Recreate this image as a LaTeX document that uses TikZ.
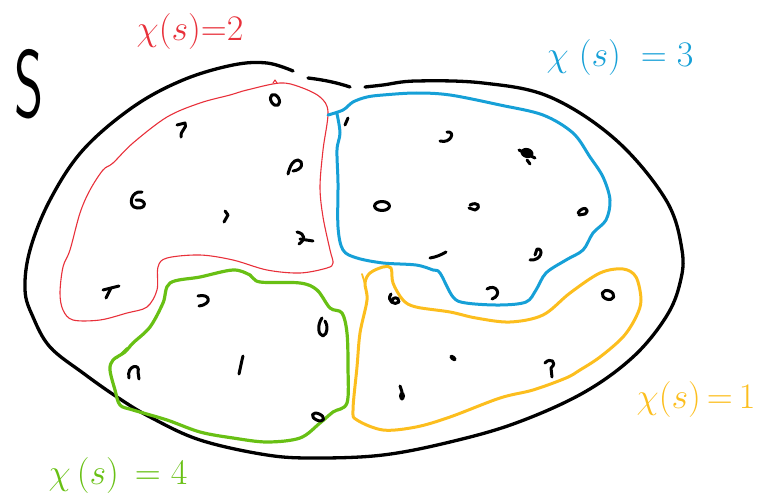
\RequirePackage{fix-cm}
\documentclass[tikz,border=0pt]{standalone}
\usepackage{xcolor}
\definecolor{skred}{RGB}{232,48,58}
\definecolor{skblue}{RGB}{22,160,215}
\definecolor{skgreen}{RGB}{104,192,20}
\definecolor{skyellow}{RGB}{252,190,30}
\tikzset{
  outline/.style={black,line width=3.3pt},
  redline/.style={skred,line width=1.1pt},
  blueline/.style={skblue,line width=3pt},
  greenline/.style={skgreen,line width=3.2pt},
  yellowline/.style={skyellow,line width=3pt},
  ink/.style={black,line width=3pt},
  lbl/.style={font=\fontsize{36}{36}\selectfont},
}
\begin{document}
\begin{tikzpicture}[x=1pt,y=-1pt,line cap=round,line join=round]
\useasboundingbox (0,0) rectangle (766,495);
% set label S
\node[font=\fontsize{96}{96}\selectfont\sffamily,xscale=0.58] (setS) at (29,84) {S};
% outer boundary of S
\draw[outline] plot[smooth,tension=0.6] coordinates {(293,71)(267,63)(233,65)(183,80)(133,107)(83,150)(50,200)(30,250)(25,290)(33,317)(50,347)(83,373)(117,397)(150,417)(200,440)(267,455)(317,458)(383,455)(450,442)(516,423)(583,393)(633,357)(666,317)(680,283)(682,250)(666,200)(616,140)(550,97)(483,83)(416,81)(383,85)(365,87)};
\draw[outline] (308,78) .. controls (325,80) and (338,83) .. (350,87);
% red class
\draw[redline] plot[smooth cycle,tension=0.55] coordinates {(280,83)(300,87)(320,97)(328,112)(323,150)(320,187)(323,217)(330,250)(333,263)(327,268)(300,273)(267,270)(233,260)(200,255)(167,258)(158,267)(157,290)(147,307)(127,313)(100,320)(73,320)(63,310)(60,293)(63,267)(70,250)(80,213)(90,190)(103,170)(113,163)(133,143)(167,117)(200,103)(230,95)(247,90)};
\draw[redline] (273,83) -- (275,80) -- (277,83);
% blue class
\draw[blueline] plot[smooth,tension=0.55] coordinates {(328,115)(343,110)(353,102)(367,97)(383,95)(416,93)(450,95)(500,105)(543,115)(573,133)(590,157)(603,177)(610,200)(606,220)(593,233)(583,250)(566,260)(546,273)(536,290)(526,302)(500,305)(466,303)(453,297)(440,273)(433,270)(416,265)(383,263)(357,258)(343,250)(338,227)(338,183)(337,150)(340,133)(337,114)};
% green class
\draw[greenline] plot[smooth cycle,tension=0.55] coordinates {(170,283)(200,277)(233,270)(250,275)(260,282)(300,283)(317,290)(330,308)(342,313)(347,333)(348,367)(347,403)(333,412)(320,423)(300,438)(267,442)(233,438)(200,432)(167,420)(133,410)(120,405)(115,390)(110,370)(113,360)(125,352)(133,343)(150,327)(163,303)};
\draw[skgreen,line width=1.8pt] (117,358) -- (127,348);
% yellow class
\draw[yellowline] plot[smooth cycle,tension=0.55] coordinates {(383,267)(391,268)(393,283)(403,300)(416,307)(450,312)(476,318)(510,322)(543,315)(570,293)(600,273)(623,269)(636,277)(641,300)(636,317)(623,337)(600,357)(580,370)(566,378)(533,390)(500,398)(450,417)(416,427)(383,430)(357,420)(353,410)(357,367)(360,333)(367,300)(365,283)(370,273)};
\draw[skyellow,line width=1.8pt] (365,284) -- (362,274);
% elements, red class
\draw[ink,rotate around={30:(275,100)}] (275,100) ellipse (4 and 6);
\draw[ink] (177,125) -- (185,123) .. controls (188,128) and (180,130) .. (181,137);
\draw[ink] (288,174) .. controls (290,166) and (293,160) .. (298,160) .. controls (304,161) and (303,170) .. (293,171);
\draw[ink] (142,192) .. controls (131,190) and (127,207) .. (137,208) .. controls (147,209) and (147,199) .. (136,200);
\draw[ink] (225,211) -- (228,215) -- (224,222);
\draw[ink] (297,232) .. controls (306,234) and (305,240) .. (299,244);
\draw[ink] (300,239) -- (313,241);
\draw[ink] (103,290) -- (119,286);
\draw[ink] (111,288) -- (106,298);
% elements, blue class
\draw[ink] (345,125) -- (348,118);
\draw[ink] (440,141) .. controls (451,144) and (456,131) .. (447,132);
\fill[black,rotate around={-15:(527,153)}] (527,153) ellipse (6.5 and 5);
\draw[ink] (519,150) -- (535,158);
\draw[ink] (527,160) -- (530,164);
\draw[ink] (382,206) ellipse (7.5 and 4.5);
\draw[ink] (470,205) .. controls (478,201) and (482,207) .. (475,210) -- (469,208);
\draw[ink] (578,213) .. controls (583,205) and (591,209) .. (585,214) -- (579,215);
\draw[ink] (430,258) .. controls (436,257) and (441,255) .. (446,252);
\draw[ink] (530,260) .. controls (542,261) and (544,248) .. (537,249) -- (535,255);
\draw[ink] (487,289) .. controls (496,283) and (503,295) .. (492,299);
% elements, green class
\draw[ink] (198,296) .. controls (210,293) and (213,304) .. (199,306);
\draw[ink] (322,318) .. controls (317,325) and (318,335) .. (323,336) .. controls (328,334) and (328,325) .. (325,321);
\draw[ink] (243,356) -- (242,360) -- (239,374);
\draw[ink] (129,378) .. controls (126,365) and (141,363) .. (138,372) -- (139,379);
\draw[ink,rotate around={-25:(318,417)}] (318,417) ellipse (6 and 3.3);
% elements, yellow class
\draw[ink] (391,294) .. controls (386,301) and (395,306) .. (399,302) .. controls (399,296) and (392,297) .. (392,301);
\draw[ink,rotate around={-20:(608,295)}] (608,295) ellipse (6 and 4.3);
\fill[black,rotate around={-40:(453,358)}] (453,358) ellipse (4 and 2.5);
\draw[ink] (545,363) .. controls (550,357) and (558,362) .. (551,368) -- (552,377);
\fill[black] (402,396) ellipse (3 and 4.5);
\draw[ink] (402,392) -- (400,386);
% labels
\node[lbl,text=skred] (lblred) at (190,32) {$\chi(s){=}2$};
\node[lbl,text=skblue] (lblblue) at (620,58) {$\chi\;(s)\;=3$};
\node[lbl,text=skgreen] (lblgreen) at (118,475) {$\chi\,(s)\,=4$};
\node[lbl,text=skyellow] (lblyellow) at (696,399) {$\chi(s)\,{=}\,1$};
\end{tikzpicture}
\end{document}
